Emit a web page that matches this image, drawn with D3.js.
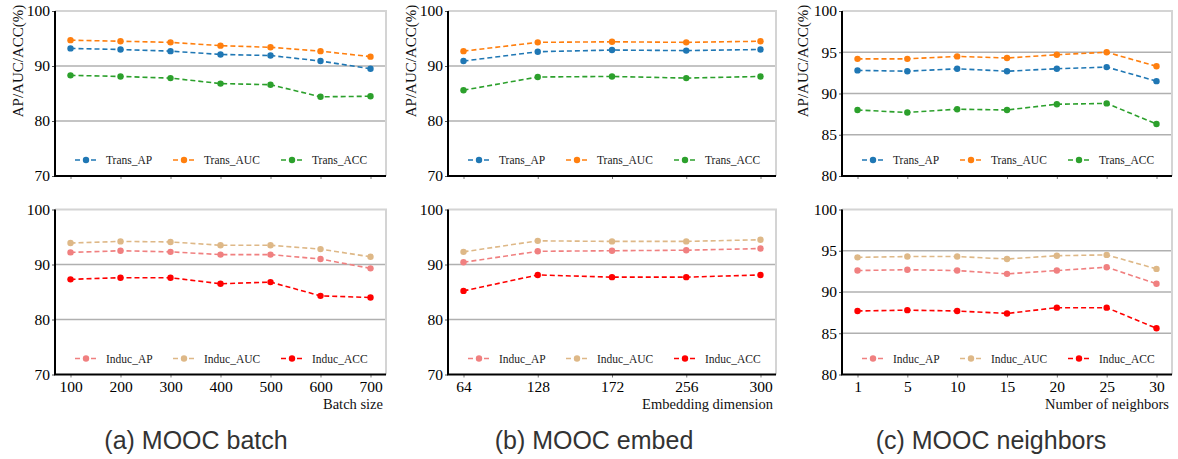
<!DOCTYPE html>
<html><head><meta charset="utf-8">
<script src="https://cdn.jsdelivr.net/npm/d3@7"></script>
<style>
html,body{margin:0;padding:0;background:#fff;}
</style></head>
<body><svg id="c" width="1178" height="459"></svg>
<script>
// ---------- data ----------
const batchSizes = ["100","200","300","400","500","600","700"];
const embedDims = ["64","128","172","256","300"];
const neighbors = ["1","5","10","15","20","25","30"];

const batchTransAP  = [93.2, 93.0, 92.7, 92.1, 91.9, 90.9, 89.5];
const batchTransAUC = [94.7, 94.5, 94.3, 93.7, 93.4, 92.7, 91.7];
const batchTransACC = [88.3, 88.1, 87.8, 86.8, 86.6, 84.4, 84.5];
const batchInducAP  = [92.2, 92.5, 92.3, 91.8, 91.8, 91.0, 89.3];
const batchInducAUC = [93.9, 94.2, 94.1, 93.5, 93.5, 92.8, 91.4];
const batchInducACC = [87.3, 87.6, 87.6, 86.5, 86.8, 84.3, 84.0];

const embedTransAP  = [90.9, 92.6, 92.9, 92.8, 93.0];
const embedTransAUC = [92.7, 94.3, 94.4, 94.3, 94.5];
const embedTransACC = [85.6, 88.0, 88.1, 87.8, 88.1];
const embedInducAP  = [90.4, 92.4, 92.5, 92.6, 92.9];
const embedInducAUC = [92.3, 94.3, 94.2, 94.2, 94.5];
const embedInducACC = [85.2, 88.1, 87.7, 87.7, 88.1];

const neighTransAP  = [92.8, 92.7, 93.0, 92.7, 93.0, 93.2, 91.5];
const neighTransAUC = [94.2, 94.2, 94.5, 94.3, 94.7, 95.0, 93.3];
const neighTransACC = [88.0, 87.7, 88.1, 88.0, 88.7, 88.8, 86.3];
const neighInducAP  = [92.6, 92.7, 92.6, 92.2, 92.6, 93.0, 91.0];
const neighInducAUC = [94.2, 94.3, 94.3, 94.0, 94.4, 94.5, 92.8];
const neighInducACC = [87.7, 87.8, 87.7, 87.4, 88.1, 88.1, 85.6];

const transNames = ["Trans_AP","Trans_AUC","Trans_ACC"];
const inducNames = ["Induc_AP","Induc_AUC","Induc_ACC"];
const transColors = ["#1f77b4","#ff7f0e","#2ca02c"];
const inducColors = ["#f08080","#deb887","#ff0000"];

const ticksAB = [70,80,90,100];
const ticksC = [80,85,90,95,100];

const captions = ["(a) MOOC batch","(b) MOOC embed","(c) MOOC neighbors"];
const xLabels = ["Batch size","Embedding dimension","Number of neighbors"];
const yLabel = "AP/AUC/ACC(%)";

// ---------- layout ----------
const SERIF = "'Liberation Serif', 'Times New Roman', Times, serif";
const SANS = "'Liberation Sans', Arial, Helvetica, sans-serif";
const svg = d3.select("#c");
const cols = [
  {x0:55, x1:386, cats:batchSizes, yd:[70,100], ticks:ticksAB, capX:196, ylx:18,
   top:[batchTransAP,batchTransAUC,batchTransACC], bot:[batchInducAP,batchInducAUC,batchInducACC]},
  {x0:448, x1:776, cats:embedDims, yd:[70,100], ticks:ticksAB, capX:594, ylx:411,
   top:[embedTransAP,embedTransAUC,embedTransACC], bot:[embedInducAP,embedInducAUC,embedInducACC]},
  {x0:842, x1:1172, cats:neighbors, yd:[80,100], ticks:ticksC, capX:991, ylx:803,
   top:[neighTransAP,neighTransAUC,neighTransACC], bot:[neighInducAP,neighInducAUC,neighInducACC]}
];
const rows = [{y0:11, y1:176, key:"top", names:transNames, colors:transColors},
              {y0:209.5, y1:374.5, key:"bot", names:inducNames, colors:inducColors}];

cols.forEach((c, ci) => {
  rows.forEach((r, ri) => {
    const g = svg.append("g");
    const x = d3.scalePoint().domain(c.cats).range([c.x0 + 15.5, c.x1 - 15.5]);
    const y = d3.scaleLinear().domain(c.yd).range([r.y1, r.y0]);

    g.selectAll("line.grid").data(c.ticks.filter(t => t > c.yd[0] && t < c.yd[1])).enter()
      .append("line").attr("x1", c.x0).attr("x2", c.x1)
      .attr("y1", d => y(d)).attr("y2", d => y(d))
      .attr("stroke", "#b0b0b0").attr("stroke-width", 1.6);

    g.append("path").attr("d", `M${c.x0},${r.y0}H${c.x1}V${r.y1}`)
      .attr("fill", "none").attr("stroke", "#d4d4d4").attr("stroke-width", 2);

    const series = c[r.key];
    series.forEach((vals, si) => {
      const col = r.colors[si];
      const line = d3.line().x((d, i) => x(c.cats[i])).y(d => y(d));
      g.append("path").datum(vals).attr("d", line).attr("fill", "none")
        .attr("stroke", col).attr("stroke-width", 1.6).attr("stroke-dasharray", "5,3");
      g.selectAll(null).data(vals).enter().append("circle")
        .attr("cx", (d, i) => x(c.cats[i])).attr("cy", d => y(d)).attr("r", 3.2)
        .attr("fill", col);
    });

    const ya = g.append("g").attr("transform", `translate(${c.x0},0)`)
      .call(d3.axisLeft(y).tickValues(c.ticks).tickSize(3).tickPadding(2).tickFormat(d3.format("d")));
    ya.attr("font-family", SERIF).attr("font-size", 15.5);
    ya.select(".domain").remove();
    ya.selectAll("text").attr("fill", "#000");
    ya.selectAll("line").attr("stroke", "#555");

    const xa = g.append("g").attr("transform", `translate(0,${r.y1})`)
      .call(d3.axisBottom(x).tickSize(3).tickPadding(3));
    xa.attr("font-family", SERIF).attr("font-size", 15.5);
    xa.select(".domain").remove();
    xa.selectAll("line").attr("stroke", "#777");
    if (ri === 0) xa.selectAll("text").remove();
    else xa.selectAll("text").attr("fill", "#000");

    g.append("path").attr("d", `M${c.x0},${r.y0}V${r.y1}H${c.x1}`)
      .attr("fill", "none").attr("stroke", "#000").attr("stroke-width", 2);

    const ly = r.y1 - 16;
    const offs = [20, 118, 226];
    r.names.forEach((n, i) => {
      const lx = c.x0 + offs[i];
      g.append("line").attr("x1", lx).attr("x2", lx + 22).attr("y1", ly).attr("y2", ly)
        .attr("stroke", r.colors[i]).attr("stroke-width", 1.6).attr("stroke-dasharray", "5,3");
      g.append("circle").attr("cx", lx + 11).attr("cy", ly).attr("r", 3.2).attr("fill", r.colors[i]);
      g.append("text").attr("x", lx + 31).attr("y", ly + 4).attr("font-size", 11.5)
        .attr("font-family", SERIF).attr("fill", "#222").text(n);
    });

    if (ri === 0) {
      g.append("text").attr("transform", `translate(${c.ylx + 5},61) rotate(-90)`)
        .attr("text-anchor", "middle").attr("font-size", 15).attr("font-family", SERIF)
        .attr("fill", "#111").text(yLabel);
    } else {
      g.append("text").attr("x", c.x1 - 3).attr("y", 409).attr("text-anchor", "end")
        .attr("font-size", 14.5).attr("font-family", SERIF).attr("fill", "#111").text(xLabels[ci]);
    }
  });
  svg.append("text").attr("x", c.capX).attr("y", 449).attr("text-anchor", "middle")
    .attr("font-family", SANS).attr("font-size", 25)
    .attr("fill", "#333").text(captions[ci]);
});
</script></body></html>
